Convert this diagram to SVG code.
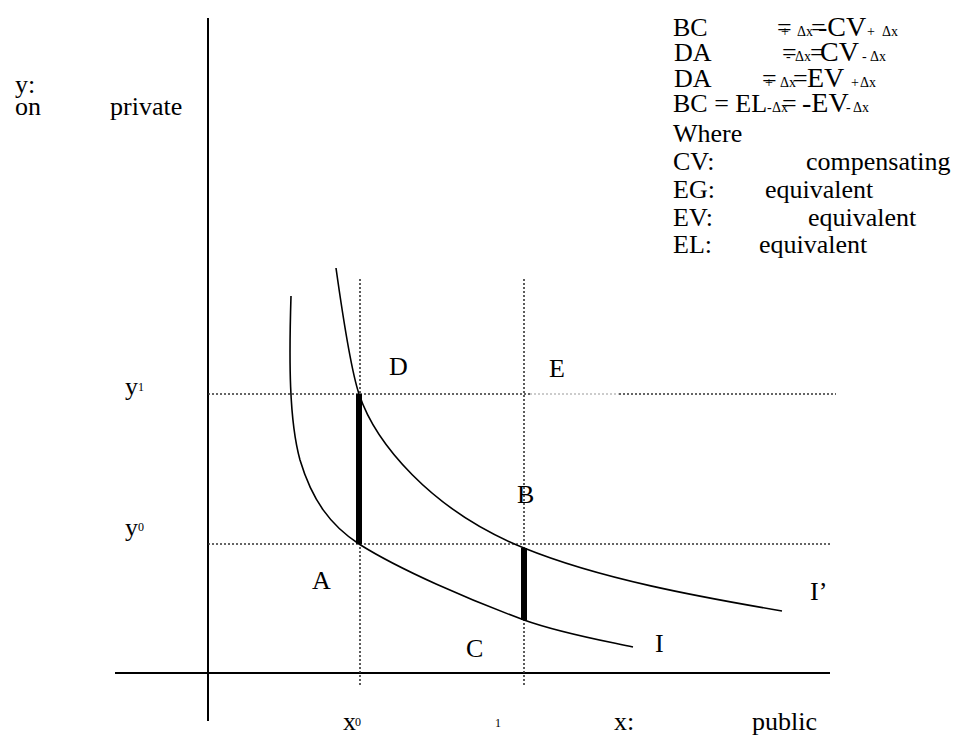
<svg xmlns="http://www.w3.org/2000/svg" width="954" height="737" viewBox="0 0 954 737">
<style>
text{font-family:"Liberation Serif","Times New Roman",serif;fill:#000;font-size:26px}
.s{font-size:14px}
.b{font-size:28px}
.sup{font-size:12px}
.axis{stroke:#000;stroke-width:2;fill:none}
.dot{stroke:#333;stroke-width:1.6;stroke-dasharray:2 2;fill:none}
.dotl{stroke:#999;stroke-width:1;stroke-dasharray:2 2;fill:none}
.curve{stroke:#000;stroke-width:1.6;fill:none}
.bar{stroke:#000;stroke-width:6;fill:none}
</style>
<rect width="954" height="737" fill="#fff"/>
<g id="axes">
<line class="axis" x1="208" y1="18" x2="208" y2="721"/>
<line class="axis" x1="115" y1="673" x2="830" y2="673"/>
</g>
<g id="guides">
<line class="dot" x1="360" y1="279" x2="360" y2="687"/>
<line class="dot" x1="524" y1="279" x2="524" y2="687"/>
<line class="dot" x1="208" y1="394" x2="530" y2="394"/>
<line class="dotl" x1="530" y1="394" x2="619" y2="394"/>
<line class="dot" x1="619" y1="394" x2="836" y2="394"/>
<line class="dot" x1="208" y1="544" x2="832" y2="544"/>
</g>
<g id="curves">
<path id="curve-I" class="curve" d="M291,296 C289,360 289,420 300,460 C312,500 330,525 359,544 C400,570 470,600 524,620 C560,633 600,640 633,647"/>
<path id="curve-I2" class="curve" d="M336,268 C344,325 351,370 359,394 C375,442 430,510 524,548 C600,579 700,597 782,611"/>
</g>
<g id="bars">
<line class="bar" x1="359" y1="394" x2="359" y2="544"/>
<line class="bar" x1="524" y1="548" x2="524" y2="620"/>
</g>
<g id="labels">
<text x="15" y="93">y:</text>
<text y="115"><tspan x="15">on</tspan><tspan x="110">private</tspan></text>
<text x="125" y="395">y<tspan class="sup" dy="-4">1</tspan></text>
<text x="125" y="536">y<tspan class="sup" dy="-5">0</tspan></text>
<text x="389" y="375">D</text>
<text x="549" y="377">E</text>
<text x="517" y="503">B</text>
<text x="312" y="589">A</text>
<text x="466" y="657">C</text>
<text x="810" y="600">I’</text>
<text x="655" y="652">I</text>
<text x="343" y="730">x<tspan class="sup" x="355" dy="-4">0</tspan></text>
<text class="sup" x="495" y="727">1</text>
<text y="730"><tspan x="614">x:</tspan><tspan x="752">public</tspan></text>
</g>
<g id="legend">
<text y="36"><tspan x="673">BC</tspan><tspan x="777">=</tspan><tspan class="s" x="781">+</tspan><tspan class="s" x="797">Δx</tspan><tspan x="811">=</tspan><tspan class="b" x="818">-CV</tspan><tspan class="s" x="867">+</tspan><tspan class="s" x="882">Δx</tspan></text>
<text y="61"><tspan x="674">DA</tspan><tspan x="782">=</tspan><tspan class="s" x="786">-</tspan><tspan class="s" x="795">Δx</tspan><tspan x="810">=</tspan><tspan class="b" x="820">CV</tspan><tspan class="s" x="862">-</tspan><tspan class="s" x="870">Δx</tspan></text>
<text y="87"><tspan x="674">DA</tspan><tspan x="762">=</tspan><tspan class="s" x="765">+</tspan><tspan class="s" x="780">Δx</tspan><tspan x="793">=</tspan><tspan class="b" x="807">EV</tspan><tspan class="s" x="851">+</tspan><tspan class="s" x="860">Δx</tspan></text>
<text y="112"><tspan x="673">BC = EL</tspan><tspan class="s" x="767">-</tspan><tspan class="s" x="772">Δx</tspan><tspan x="782">=</tspan><tspan class="b" x="802">-EV</tspan><tspan class="s" x="846">-</tspan><tspan class="s" x="853">Δx</tspan></text>
<text x="673" y="142">Where</text>
<text y="170"><tspan x="673">CV:</tspan><tspan x="806">compensating</tspan></text>
<text y="198"><tspan x="673">EG:</tspan><tspan x="765">equivalent</tspan></text>
<text y="226"><tspan x="673">EV:</tspan><tspan x="808">equivalent</tspan></text>
<text y="253"><tspan x="673">EL:</tspan><tspan x="759">equivalent</tspan></text>
</g>
</svg>
